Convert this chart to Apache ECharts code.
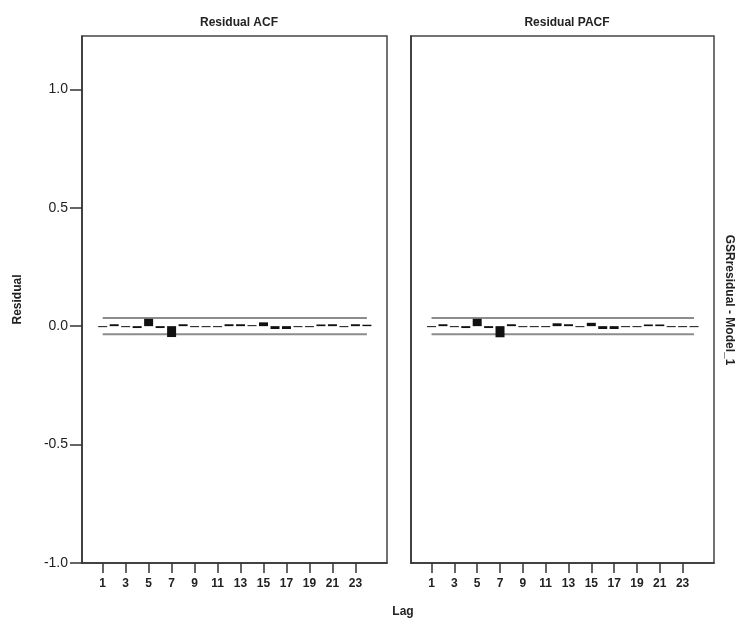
<!DOCTYPE html>
<html>
<head>
<meta charset="utf-8">
<script src="https://cdn.jsdelivr.net/npm/echarts@6.0.0/dist/echarts.min.js"></script>
<style>
html,body{margin:0;padding:0;background:#fff;}
#chart{width:742px;height:620px;}
</style>
</head>
<body>
<div id="chart"></div>
<script>
// ---- data ----
const lags = [1,2,3,4,5,6,7,8,9,10,11,12,13,14,15,16,17,18,19,20,21,22,23,24];
const acfValues = [-0.003,0.008,-0.003,-0.008,0.031,-0.008,-0.046,0.008,-0.002,-0.002,-0.002,0.008,0.008,0.002,0.016,-0.012,-0.012,-0.002,-0.002,0.007,0.008,-0.004,0.008,0.006];
const pacfValues = [-0.003,0.008,-0.003,-0.008,0.031,-0.008,-0.047,0.008,-0.002,-0.002,-0.002,0.012,0.008,-0.004,0.014,-0.012,-0.012,-0.002,-0.002,0.007,0.007,-0.003,-0.002,-0.002];
const upperLimit = 0.034;
const lowerLimit = -0.034;
const xTickLabels = [1,3,5,7,9,11,13,15,17,19,21,23];
const yTickLabels = [-1.0,-0.5,0.0,0.5,1.0];
const panelTitles = ['Residual ACF','Residual PACF'];
const xTitle = 'Lag';
const yTitle = 'Residual';
const rowTitle = 'GSRresidual - Model_1';

const FONT = "'Liberation Sans', Arial, sans-serif";
const chart = echarts.init(document.getElementById('chart'), null, {renderer:'canvas'});

const grids = [
  {left:82, top:36, width:305, height:527},
  {left:411, top:36, width:303, height:527}
];

function xAxis(i){
  return {
    gridIndex:i, type:'value', min:-0.8, max:25.75,
    splitLine:{show:false},
    axisLine:{show:true, onZero:false, lineStyle:{color:'#333', width:1.5}},
    axisTick:{show:true, length:10, customValues:xTickLabels, lineStyle:{color:'#333', width:1.5}},
    axisLabel:{show:true, customValues:xTickLabels, margin:15, fontSize:12, fontFamily:FONT, color:'#222', fontWeight:'bold'}
  };
}
function yAxis(i){
  const left = i===0;
  return {
    gridIndex:i, type:'value', min:-1, max:1.225,
    splitLine:{show:false},
    axisLine:{show:true, onZero:false, lineStyle:{color:'#333', width:1.5}},
    axisTick:{show:left, length:12, customValues:yTickLabels, lineStyle:{color:'#333', width:1.5}},
    axisLabel:{show:left, customValues:yTickLabels, margin:14, fontSize:14, fontFamily:FONT, color:'#222',
      formatter:v=>Number(v).toFixed(1)},
    name:left?yTitle:'', nameLocation:'middle', nameGap:58, nameRotate:90,
    nameTextStyle:{fontSize:12, fontWeight:'bold', fontFamily:FONT, color:'#222'}
  };
}

function barSeries(i, vals){
  return {
    type:'bar', xAxisIndex:i, yAxisIndex:i,
    data:lags.map((l,k)=>[l, vals[k]]),
    barWidth:9, barMinHeight:1,
    itemStyle:{color:'#111'},
    silent:true, animation:false
  };
}
function limitSeries(i, v){
  return {
    type:'line', xAxisIndex:i, yAxisIndex:i,
    data:[[lags[0], v],[lags[lags.length-1], v]],
    symbol:'none', lineStyle:{color:'#8c8c8c', width:2},
    silent:true, animation:false, z:1
  };
}

chart.setOption({
  backgroundColor:'#fff',
  animation:false,
  title:[
    {text:panelTitles[0], left:234, top:12, textAlign:'center', textStyle:{fontSize:12, fontWeight:'bold', fontFamily:FONT, color:'#222'}},
    {text:panelTitles[1], left:562, top:12, textAlign:'center', textStyle:{fontSize:12, fontWeight:'bold', fontFamily:FONT, color:'#222'}},
    {text:xTitle, left:398, top:601, textAlign:'center', textStyle:{fontSize:12, fontWeight:'bold', fontFamily:FONT, color:'#222'}}
  ],
  graphic:[
    {type:'text', x:729, y:300, rotation:-Math.PI/2,
      style:{text:rowTitle, align:'center', verticalAlign:'middle', fontSize:12, fontWeight:'bold', fontFamily:FONT, fill:'#222'}}
  ],
  grid:grids.map(g=>Object.assign({show:true, borderColor:'#444', borderWidth:1.5, backgroundColor:'#fff'}, g)),
  xAxis:[xAxis(0), xAxis(1)],
  yAxis:[yAxis(0), yAxis(1)],
  series:[
    limitSeries(0, upperLimit), limitSeries(0, lowerLimit), barSeries(0, acfValues),
    limitSeries(1, upperLimit), limitSeries(1, lowerLimit), barSeries(1, pacfValues)
  ]
});
</script>
</body>
</html>
